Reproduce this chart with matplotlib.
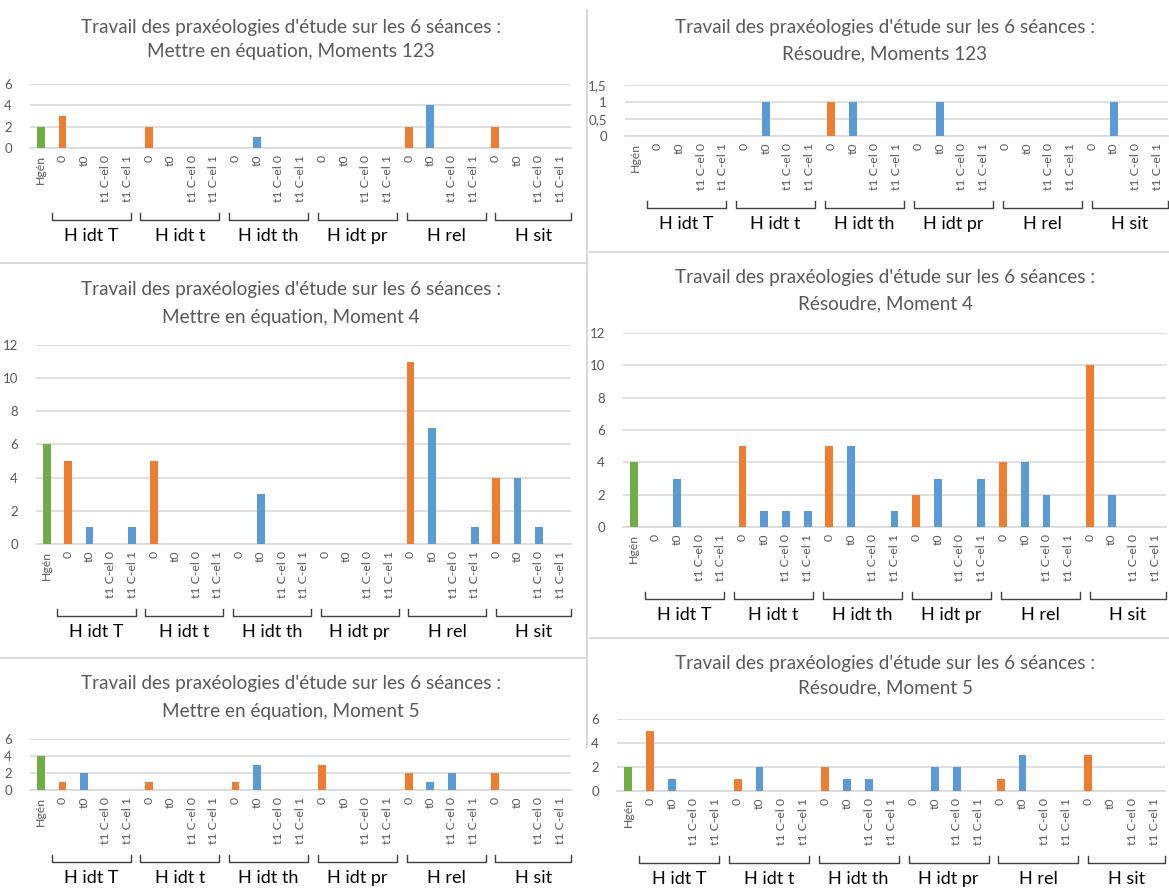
"""Six panels: travail des praxéologies d'étude sur les 6 séances."""

from matplotlib import pyplot
from matplotlib import transforms
import numpy

# Categories (25 columns): Hgén, then 6 groups of 4 sub-categories.
groups = ['H idt T', 'H idt t', 'H idt th', 'H idt pr', 'H rel', 'H sit']
subcats = ['0', 't0', 't1 C-el 0', 't1 C-el 1']
categories = ['Hgén'] + subcats * len(groups)

title_top = "Travail des praxéologies d'étude sur les 6 séances :"

# Values, in column order: Hgén, then per group (0, t0, t1 C-el 0, t1 C-el 1).
mettre_123 = [2,
              3, 0, 0, 0,
              2, 0, 0, 0,
              0, 1, 0, 0,
              0, 0, 0, 0,
              2, 4, 0, 0,
              2, 0, 0, 0]
resoudre_123 = [0,
                0, 0, 0, 0,
                0, 1, 0, 0,
                1, 1, 0, 0,
                0, 1, 0, 0,
                0, 0, 0, 0,
                0, 1, 0, 0]
mettre_4 = [6,
            5, 1, 0, 1,
            5, 0, 0, 0,
            0, 3, 0, 0,
            0, 0, 0, 0,
            11, 7, 0, 1,
            4, 4, 1, 0]
resoudre_4 = [4,
              0, 3, 0, 0,
              5, 1, 1, 1,
              5, 5, 0, 1,
              2, 3, 0, 3,
              4, 4, 2, 0,
              10, 2, 0, 0]
mettre_5 = [4,
            1, 2, 0, 0,
            1, 0, 0, 0,
            1, 3, 0, 0,
            3, 0, 0, 0,
            2, 1, 2, 0,
            2, 0, 0, 0]
resoudre_5 = [2,
              5, 1, 0, 0,
              1, 2, 0, 0,
              2, 1, 1, 0,
              0, 2, 2, 0,
              1, 3, 0, 0,
              3, 0, 0, 0]

green, orange, blue = '#70AD47', '#ED7D31', '#5B9BD5'
grey_text = '#595959'
grid_col = '#D9D9D9'

W, H = 1169, 889
pyplot.rcParams['font.family'] = ['Lato', 'DejaVu Sans']
fig = pyplot.figure(figsize=(W / 100, H / 100), dpi=100)


def fy(ypix):
    return 1 - ypix / H


def panel(values, subtitle, x0, x1, ytop, ybot, ymax, ystep, tx, ty1, ty2):
    ax = fig.add_axes([x0 / W, fy(ybot), (x1 - x0) / W, (ybot - ytop) / H])
    colors = [green] + [orange, blue, blue, blue] * len(groups)
    x = numpy.arange(len(categories))
    ax.bar(x, values, width=0.36, color=colors, zorder=3)
    ax.set_xlim(-0.5, len(categories) - 0.5)
    ax.set_ylim(0, ymax)
    yt = numpy.arange(0, ymax + ystep / 2, ystep)
    ax.set_yticks(yt)
    ax.set_yticklabels([('%g' % v).replace('.', ',') for v in yt],
                       fontsize=9.5, color=grey_text)
    ax.yaxis.grid(True, color=grid_col, lw=1.2)
    ax.set_axisbelow(True)
    for s in ['top', 'right', 'left']:
        ax.spines[s].set_visible(False)
    ax.spines['bottom'].set_color(grid_col)
    ax.spines['bottom'].set_linewidth(1.2)
    ax.tick_params(length=0)
    ax.tick_params(axis='y', pad=13)
    ax.tick_params(axis='x', pad=5)
    ax.set_xticks(x)
    ax.set_xticklabels(categories, rotation=90, fontsize=8.8, color=grey_text)

    # Group brackets below the category labels.
    trans = transforms.blended_transform_factory(ax.transData, fig.transFigure)
    yb = ybot + 72
    for g, name in enumerate(groups):
        a = 4 * g + 0.5 + 0.1 * g
        b = min(a + 3.65, len(categories) - 0.5)
        ax.plot([a, a, b, b], [fy(yb - 7), fy(yb), fy(yb), fy(yb - 7)],
                color='#404040', lw=1, transform=trans, clip_on=False)
        ax.text((a + b) / 2, fy(yb + 16), name, transform=trans,
                ha='center', va='center', fontsize=13, color='black')

    fig.text(tx / W, fy(ty1), title_top, ha='center', va='center',
             fontsize=13.6, color=grey_text)
    fig.text(tx / W, fy(ty2), subtitle, ha='center', va='center',
             fontsize=13.6, color=grey_text)
    return ax


panel(mettre_123, 'Mettre en équation, Moments 123',
      30, 571, 84, 148, 6, 2, 291, 27, 52)
panel(resoudre_123, 'Résoudre, Moments 123',
      625, 1168, 85, 136, 1.5, 0.5, 885, 27, 54)
panel(mettre_4, 'Mettre en équation, Moment 4',
      36, 571, 345, 544, 12, 2, 291, 290, 317)
panel(resoudre_4, 'Résoudre, Moment 4',
      623, 1166, 333, 527, 12, 2, 885, 277, 304)
panel(mettre_5, 'Mettre en équation, Moment 5',
      30, 571, 739, 790, 6, 2, 291, 684, 711)
panel(resoudre_5, 'Résoudre, Moment 5',
      617, 1165, 719, 791, 6, 2, 885, 663, 688)

# Separators between the pasted charts.
line_kw = dict(color=grid_col, lw=1.5, transform=fig.transFigure)
fig.add_artist(pyplot.Line2D([587 / W, 587 / W], [fy(10), fy(747)], **line_kw))
fig.add_artist(pyplot.Line2D([0, 585 / W], [fy(263), fy(263)], **line_kw))
fig.add_artist(pyplot.Line2D([0, 585 / W], [fy(658), fy(658)], **line_kw))
fig.add_artist(pyplot.Line2D([590 / W, 1], [fy(252), fy(252)], **line_kw))
fig.add_artist(pyplot.Line2D([590 / W, 1], [fy(638), fy(638)], **line_kw))

fig.savefig('out.png', dpi=100)
